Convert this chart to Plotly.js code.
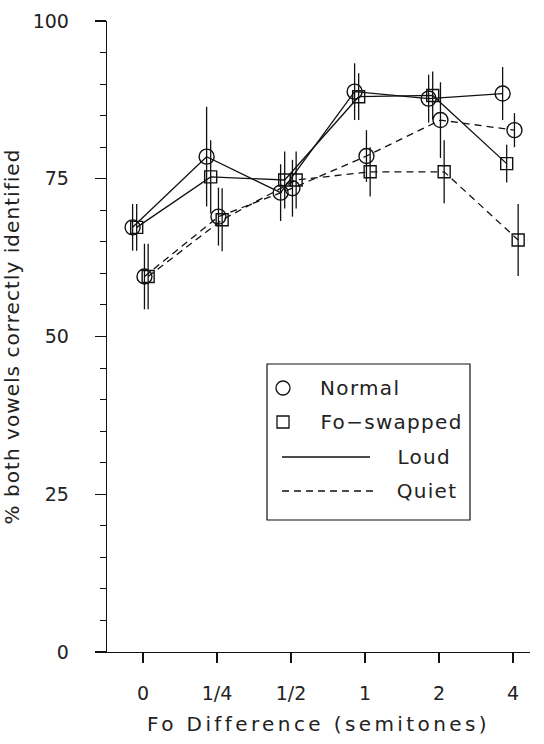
<!DOCTYPE html>
<html><head><meta charset="utf-8">
<script src="https://cdn.plot.ly/plotly-3.0.1.min.js"></script>
<style>
html,body{margin:0;padding:0;background:#fff}
#chart text.xtitle{letter-spacing:3.4px}
#chart text.ytitle{letter-spacing:1.05px}
#chart text.annotation-text{letter-spacing:1.3px}
</style>
</head><body>
<div id="chart" style="width:544px;height:744px"></div>
<script>
// ---- data ----
const categories = ["0", "1/4", "1/2", "1", "2", "4"];
const normalLoud     = [67.3, 78.5, 72.8, 88.8, 87.7, 88.5];
const normalLoudErr  = [3.7, 7.9, 4.5, 4.5, 3.8, 4.2];
const swappedLoud    = [67.3, 75.3, 74.8, 88.0, 88.2, 77.4];
const swappedLoudErr = [3.7, 5.8, 4.5, 3.7, 3.8, 3.0];
const normalQuiet     = [59.5, 69.0, 73.5, 78.6, 84.3, 82.7];
const normalQuietErr  = [5.2, 4.6, 4.5, 4.1, 6.0, 2.7];
const swappedQuiet    = [59.5, 68.5, 74.8, 76.1, 76.1, 65.3];
const swappedQuietErr = [5.2, 5.0, 4.5, 3.9, 5.0, 5.7];
const yTickVals = [0, 25, 50, 75, 100];
const legendLabels = ["Normal", "Fo\u2212swapped", "Loud", "Quiet"];

// ---- styling ----
const FONT = "DejaVu Sans, Liberation Sans, sans-serif";
const INK = "#111";
const TXT = "#222";
const DASH = "7px,5px";
const KEY_SPACING = 1.3; // must match the css letter-spacing for annotation text

function xs(offset) { return categories.map((c, i) => i + offset); }

function series(y, err, offset, symbol, size, dash) {
  return {
    type: "scatter", mode: "lines+markers",
    x: xs(offset), y: y,
    line: {color: INK, width: 1.3, dash: dash},
    marker: {symbol: symbol, size: size, color: INK, line: {width: 1.4, color: INK}},
    error_y: {type: "data", array: err, visible: true, width: 0, thickness: 1.3, color: INK},
    showlegend: false, hoverinfo: "x+y"
  };
}

const traces = [
  series(normalQuiet, normalQuietErr, 0.02, "circle-open", 15, DASH),
  series(swappedQuiet, swappedQuietErr, 0.07, "square-open", 12, DASH),
  series(normalLoud, normalLoudErr, -0.14, "circle-open", 15, "solid"),
  series(swappedLoud, swappedLoudErr, -0.085, "square-open", 12, "solid")
];

// plot area geometry (px) for the hand-drawn key
const L = 107, T = 21, W = 423, H = 631;
const px = v => (v - L) / W;
const py = v => (T + H - v) / H;

const shapes = [
  {type: "line", xref: "paper", yref: "paper", x0: px(96), x1: 0, y0: 0, y1: 0, line: {color: INK, width: 1.3}},
  {type: "rect", xref: "paper", yref: "paper", x0: px(267), x1: px(470), y0: py(520), y1: py(364), line: {color: INK, width: 1.2}, fillcolor: "rgba(0,0,0,0)"},
  {type: "circle", xref: "paper", yref: "paper", xsizemode: "pixel", ysizemode: "pixel",
   xanchor: px(283), yanchor: py(388), x0: -7, x1: 7, y0: -7, y1: 7, line: {color: INK, width: 1.3}},
  {type: "rect", xref: "paper", yref: "paper", xsizemode: "pixel", ysizemode: "pixel",
   xanchor: px(283), yanchor: py(422), x0: -6, x1: 6, y0: -6, y1: 6, line: {color: INK, width: 1.3}},
  {type: "line", xref: "paper", yref: "paper", x0: px(282), x1: px(370), y0: py(457), y1: py(457), line: {color: INK, width: 1.3}},
  {type: "line", xref: "paper", yref: "paper", x0: px(282), x1: px(378), y0: py(491), y1: py(491), line: {color: INK, width: 1.3, dash: DASH}}
];

const keyFont = {family: FONT, size: 20, color: TXT};
// letter-spacing widens text around its centre, so shift each label right by half the extra width
function keyLabel(text, leftPx, centerYPx) {
  const shift = KEY_SPACING * text.length / 2;
  return {xref: "paper", yref: "paper", x: px(leftPx + shift), y: py(centerYPx), text: text,
          showarrow: false, xanchor: "left", yanchor: "middle", font: keyFont};
}
const annotations = [
  keyLabel(legendLabels[0], 318, 388),
  keyLabel(legendLabels[1], 318, 422),
  keyLabel(legendLabels[2], 395, 457),
  keyLabel(legendLabels[3], 395, 491)
];

const layout = {
  width: 544, height: 744,
  margin: {l: L, r: 544 - L - W, t: T, b: 744 - T - H},
  paper_bgcolor: "#fff", plot_bgcolor: "#fff",
  font: {family: FONT, size: 19, color: TXT},
  showlegend: false,
  xaxis: {
    range: [-0.486, 5.23], tickmode: "array", tickvals: categories.map((c, i) => i), ticktext: categories,
    showgrid: false, zeroline: false, showline: true, linecolor: INK, linewidth: 1.3,
    ticks: "outside", ticklen: 10, tickwidth: 1.2, tickcolor: INK,
    ticklabelstandoff: 14,
    tickfont: {family: FONT, size: 19, color: TXT},
    title: {text: "Fo Difference (semitones)", font: {family: FONT, size: 20, color: TXT}, standoff: 14}
  },
  yaxis: {
    range: [0, 100], tickmode: "array", tickvals: yTickVals,
    showgrid: false, zeroline: false, showline: true, linecolor: INK, linewidth: 1.3,
    ticks: "outside", ticklen: 11, tickwidth: 1.2, tickcolor: INK,
    minor: {tickmode: "linear", dtick: 5, ticks: "outside", ticklen: 6, tickwidth: 1, tickcolor: INK},
    ticklabelstandoff: 22,
    tickfont: {family: FONT, size: 19, color: TXT},
    title: {text: "% both vowels correctly identified", font: {family: FONT, size: 20, color: TXT}, standoff: 8}
  },
  shapes: shapes,
  annotations: annotations
};

Plotly.newPlot("chart", traces, layout, {displayModeBar: false, staticPlot: true});
</script>
</body></html>
